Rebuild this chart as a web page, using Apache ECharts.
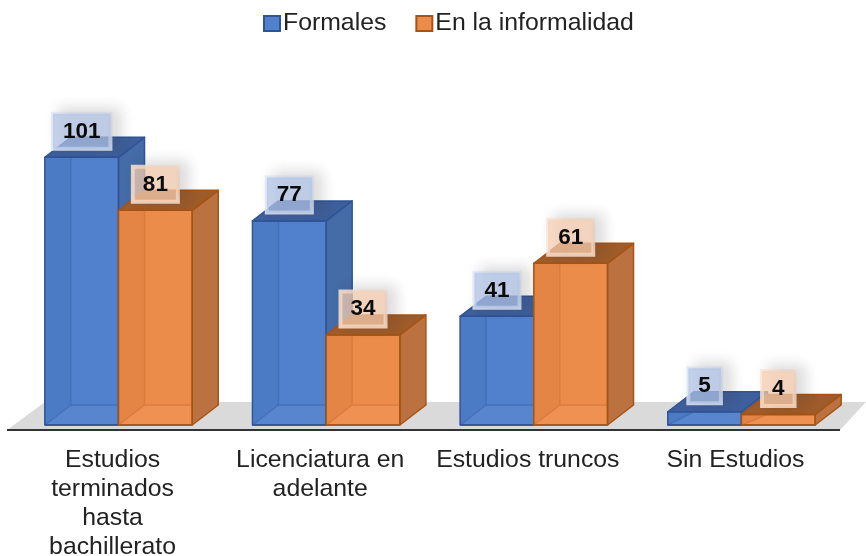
<!DOCTYPE html>
<html>
<head>
<meta charset="utf-8">
<title>Formales / En la informalidad</title>
<script src="https://cdn.jsdelivr.net/npm/echarts@6/dist/echarts.min.js"></script>
<style>
html,body{margin:0;padding:0;background:#fff;}
#main{width:866px;height:556px;}
</style>
</head>
<body>
<div id="main"></div>
<script>
// datos
var categorias = ['Estudios\nterminados\nhasta\nbachillerato', 'Licenciatura en\nadelante', 'Estudios truncos', 'Sin Estudios'];
var formales = [101, 77, 41, 5];
var informales = [81, 34, 61, 4];

var myChart = echarts.init(document.getElementById('main'));
var fuente = '"Liberation Sans", Arial, sans-serif';

// profundidad de la caja 3D
var DX = 26, DY = 20;

function cara(puntos, fill, stroke, sw) {
    return {
        type: 'polygon',
        shape: {points: puntos},
        style: {fill: fill, stroke: stroke || null, lineWidth: sw || 0, lineJoin: 'round'}
    };
}

function linea(x1, y1, x2, y2, stroke) {
    return {
        type: 'line',
        shape: {x1: x1, y1: y1, x2: x2, y2: y2},
        style: {stroke: stroke, lineWidth: 1.5}
    };
}

// lado: -1 barra izquierda, 0 barra derecha
function cajaRender(lado, pal) {
    return function (params, api) {
        var base = api.coord([api.value(0), 0]);
        var tope = api.coord([api.value(0), api.value(1)]);
        var w = api.size([1, 0])[0] * 0.355;
        var x0 = base[0] + lado * w, x1 = x0 + w;
        var yb = base[1], yt = tope[1];
        var texto = String(api.value(1));
        var cx = x0 + w / 2, cy = yt - 26;
        var yFondo = Math.max(yb - DY, yt);
        return {
            type: 'group',
            children: [
                cara([[x0, yb], [x1, yb], [x1, yt], [x0, yt]], pal.front),
                // piso y pared vistas a traves del frente
                cara([[x0, yb], [x1, yb], [x1, yFondo], [x0 + DX, yFondo]], pal.floor),
                cara([[x0, yb], [x0 + DX, yFondo], [x0 + DX, yt], [x0, yt]], pal.wall),
                linea(x0 + DX, yt, x0 + DX, yFondo, pal.inner),
                linea(x0 + DX, yFondo, x1, yFondo, pal.inner),
                linea(x0, yb, x0 + DX, yFondo, pal.inner),
                // lado derecho y tapa
                cara([[x1, yb], [x1 + DX, yb - DY], [x1 + DX, yt - DY], [x1, yt]], pal.side, pal.edge, 1.5),
                cara([[x0, yt], [x1, yt], [x1 + DX, yt - DY], [x0 + DX, yt - DY]], pal.top, pal.edge, 1.5),
                cara([[x0, yb], [x1, yb], [x1, yt], [x0, yt]], 'rgba(0,0,0,0)', pal.edge, 1.5),
                linea(x0, yb, x1, yb, pal.edge),
                // etiqueta de dato
                {
                    type: 'text',
                    x: cx,
                    y: cy,
                    style: {
                        text: texto,
                        font: 'bold 22.5px ' + fuente,
                        fill: '#0a0a0a',
                        align: 'center',
                        verticalAlign: 'middle',
                        lineHeight: 35,
                        padding: [0, 10],
                        backgroundColor: pal.box,
                        borderColor: pal.boxEdge,
                        borderWidth: 2,
                        shadowColor: 'rgba(60,60,60,0.22)',
                        shadowBlur: 14,
                        shadowOffsetX: 8,
                        shadowOffsetY: -3
                    }
                }
            ]
        };
    };
}

var azul = {
    front: '#5181cc', floor: '#5785ce', wall: '#4c7bc5', inner: '#4470b8',
    side: '#466ca8', top: '#3e5f9c', edge: '#2f5597',
    box: 'rgba(176,196,232,0.72)', boxEdge: 'rgba(226,233,246,0.85)'
};
var naranja = {
    front: '#ec8c4b', floor: '#ee9153', wall: '#e48546', inner: '#d87c3e',
    side: '#bb7240', top: '#9e5c2a', edge: '#a65415',
    box: 'rgba(250,208,178,0.72)', boxEdge: 'rgba(252,232,218,0.85)'
};

function filas(valores) {
    return valores.map(function (v, i) { return [i, v]; });
}

myChart.setOption({
    animation: false,
    backgroundColor: '#fff',
    textStyle: {fontFamily: fuente},
    legend: {
        top: 6,
        left: 258,
        icon: 'rect',
        itemWidth: 16,
        itemHeight: 15,
        itemGap: 29,
        textStyle: {fontSize: 24.8, color: '#222', padding: [0, 0, 0, -2]},
        data: ['Formales', 'En la informalidad']
    },
    grid: {left: 14.7, right: 20.7, top: 27.5, bottom: 131, outerBoundsMode: 'none'},
    // piso gris y linea de base
    graphic: [
        {
            type: 'polygon',
            z: -1,
            shape: {points: [[7, 430], [45, 402], [866, 402], [840, 430]]},
            style: {fill: '#dbdada'}
        },
        {
            type: 'line',
            z: -1,
            shape: {x1: 7, y1: 430, x2: 840, y2: 430},
            style: {stroke: '#333', lineWidth: 2}
        }
    ],
    xAxis: {
        type: 'category',
        data: categorias,
        axisLine: {show: false},
        axisTick: {show: false},
        axisLabel: {
            interval: 0,
            margin: 21,
            fontSize: 24.8,
            lineHeight: 29,
            color: '#222',
            verticalAlign: 'top',
            padding: [0, 12, 0, 0]
        }
    },
    yAxis: {type: 'value', min: 0, max: 150, show: false},
    series: [
        {
            name: 'Formales',
            type: 'custom',
            renderItem: cajaRender(-1, azul),
            itemStyle: {color: azul.front, borderColor: azul.edge, borderWidth: 1.5},
            encode: {x: 0, y: 1},
            data: filas(formales)
        },
        {
            name: 'En la informalidad',
            type: 'custom',
            renderItem: cajaRender(0, naranja),
            itemStyle: {color: naranja.front, borderColor: naranja.edge, borderWidth: 1.5},
            encode: {x: 0, y: 1},
            data: filas(informales)
        }
    ]
});
</script>
</body>
</html>
